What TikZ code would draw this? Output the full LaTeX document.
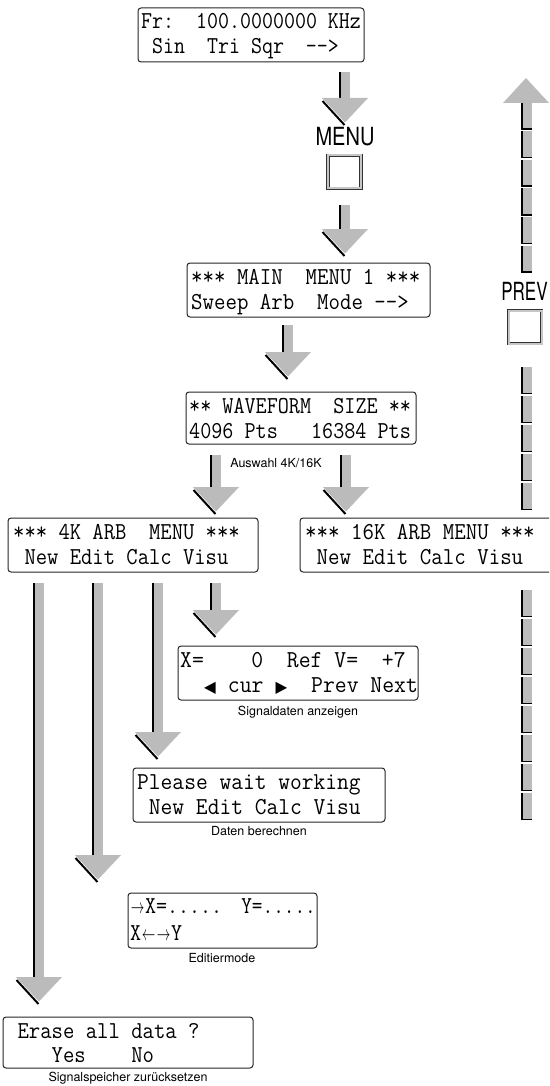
\documentclass[tikz,border=0pt]{standalone}
\usepackage{fontspec}
\usepackage{graphicx}
\usetikzlibrary{fit}
\newfontfamily\capfont{TeX Gyre Heros}
\newfontfamily\symfont{DejaVu Sans}
\definecolor{agray}{HTML}{BBBBBB}
\newcommand\lcdt[2][0.9]{\scalebox{#1}[1]{\fontsize{24.3}{26}\selectfont\ttfamily #2}}
\newcommand\tri[1]{\makebox[0.525em][c]{\symfont\fontsize{16}{16}\selectfont #1}}
\newcommand\rarr{\makebox[0.7em][c]{\scalebox{0.62}[0.85]{$\rightarrow$}}}
\newcommand\larr{\makebox[0.7em][c]{\scalebox{0.62}[0.85]{$\leftarrow$}}}
% fat down arrow: x, top, tip
\newcommand\fatdown[3]{%
  \fill[black] ({#1-6},#2) rectangle ({#1-4},{#3-26});
  \fill[agray] ({#1-4},#2) rectangle ({#1+5},{#3-25});
  \draw[black,line width=2pt] ({#1-22.5},{#3-23}) -- ({#1-0.5},{#3+1});
  \fill[agray] ({#1-23},{#3-26}) -- ({#1+23},{#3-26}) -- (#1,{#3-1.5}) -- cycle;
}
\newcommand\pseg[1]{%
  \fill[black] (520.5,#1) rectangle (532,{#1+27});
  \fill[agray] (522.5,#1) rectangle (532,{#1+25.5});
}
\tikzset{
  lcdbox/.style={draw=black!85, line width=1pt, rounded corners=3pt, inner sep=0pt},
  lcdtxt/.style={anchor=base west, inner sep=0pt},
  captxt/.style={font=\capfont\fontsize{12.5}{14}\selectfont, inner sep=0pt},
  bigtxt/.style={font=\capfont\fontsize{25}{25}\selectfont, inner sep=0pt},
  btnbox/.style={draw=black!80, double=gray!45, double distance=2pt, line width=0.8pt,
    fill=white, minimum size=33pt, inner sep=0pt}
}
\begin{document}
\begin{tikzpicture}[x=1pt,y=-1pt]
\useasboundingbox (0,0) rectangle (549,1086);
\fill[white] (0,0) rectangle (549,1086);
\clip (0,0) rectangle (549,1086);

% Box 1
\node[lcdbox, fit={(138,8) (364,62)}] (b1) {};
\node[lcdtxt] (b1a) at (141,29) {\lcdt[0.878]{Fr:~~100.0000000~KHz}};
\node[lcdtxt] (b1b) at (141,54) {\lcdt[0.878]{~Sin~~Tri~Sqr~~-{}-{}>}};

\fatdown{345}{72}{124}
\node[bigtxt] (menul) at (345,137) {\scalebox{0.8}[1]{MENU}};
\node[btnbox] (menub) at (344.5,172) {};
\fatdown{345}{205}{255}

% Main menu
\node[lcdbox, fit={(187,263) (430,317)}] (bm) {};
\node[lcdtxt] (bma) at (191,284) {\lcdt[0.915]{*{}*{}*~MAIN~~MENU~1~*{}*{}*}};
\node[lcdtxt] (bmb) at (191,309) {\lcdt[0.915]{Sweep~Arb~~Mode~-{}-{}>}};

\fatdown{288}{325}{378}

% Waveform size
\node[lcdbox, fit={(186,392) (416,444)}] (bw) {};
\node[lcdtxt] (bwa) at (189,413) {\lcdt[0.886]{*{}*~WAVEFORM~~SIZE~*{}*}};
\node[lcdtxt] (bwb) at (189,438) {\lcdt[0.886]{4096~Pts~~~16384~Pts}};

\node[captxt] (c0) at (276,463) {Auswahl 4K/16K};
\fatdown{216}{455}{513}
\fatdown{346}{455}{513}

% 4K / 16K
\node[lcdbox, fit={(8,518) (258,572)}] (b4) {};
\node[lcdtxt] (b4a) at (13,539) {\lcdt[0.905]{*{}*{}*~4K~ARB~~MENU~*{}*{}*}};
\node[lcdtxt] (b4b) at (13,564) {\lcdt[0.905]{~New~Edit~Calc~Visu}};
\node[lcdbox, fit={(300,518) (556,572)}] (b16) {};
\node[lcdtxt] (b16a) at (305,539) {\lcdt[0.917]{*{}*{}*~16K~ARB~MENU~*{}*{}*}};
\node[lcdtxt] (b16b) at (305,564) {\lcdt[0.917]{~New~Edit~Calc~Visu}};

% arrows from 4K menu
\fatdown{39}{583}{1003}
\fatdown{98}{583}{881}
\fatdown{158}{583}{758}
\fatdown{216}{583}{636}

% Visu box
\node[lcdbox, fit={(178,646) (418,700)}] (bx) {};
\node[lcdtxt] (bxa) at (180,667) {\lcdt[0.948]{X=~~~~0~~Ref~V=~~+7}};
\node[lcdtxt] (bxb) at (180,692) {\lcdt[0.948]{~~\tri{◀}~cur~\tri{▶}~~Prev~Next}};
\node[captxt] (c1) at (298,712) {Signaldaten anzeigen};

% Calc box
\node[lcdbox, fit={(133,768) (385,822)}] (bp) {};
\node[lcdtxt] (bpa) at (137,789) {\lcdt[0.94]{Please~wait~working}};
\node[lcdtxt] (bpb) at (137,814) {\lcdt[0.94]{~New~Edit~Calc~Visu}};
\node[captxt] (c2) at (259,831) {Daten berechnen};

% Edit box
\node[lcdbox, fit={(128,893) (317,948)}] (be) {};
\node[lcdtxt] (bea) at (130,913) {\lcdt[0.88]{\rarr X=.....}};
\node[lcdtxt, anchor=base east] (beb) at (316,913) {\lcdt[0.85]{Y=.....}};
\node[lcdtxt] (bec) at (130,940) {\lcdt[0.88]{X\larr\rarr Y}};
\node[captxt] (c3) at (222,958) {Editiermode};

% Erase box
\node[lcdbox, fit={(3,1017) (253,1068)}] (bn) {};
\node[lcdtxt] (bna) at (6,1038) {\lcdt[0.909]{~Erase~all~data~?}};
\node[lcdtxt] (bnb) at (6,1062) {\lcdt[0.909]{~~~~Yes~~~~No}};
\node[captxt] (c4) at (128,1078) {Signalspeicher zurücksetzen};

% PREV dashed up arrow
\fill[agray] (503,103) -- (549,103) -- (526,78) -- cycle;
\foreach \yy in {103,131.5,160,188.5,217,245.5} {\pseg{\yy}}
\node[bigtxt] (prevl) at (524.5,291) {\scalebox{0.68}[1]{PREV}};
\node[btnbox] (prevb) at (525,327) {};
\foreach \yy in {367,396,425,454,483} {\pseg{\yy}}
\foreach \yy in {590,619,648,677,706,735,764,793} {\pseg{\yy}}
\end{tikzpicture}
\end{document}
